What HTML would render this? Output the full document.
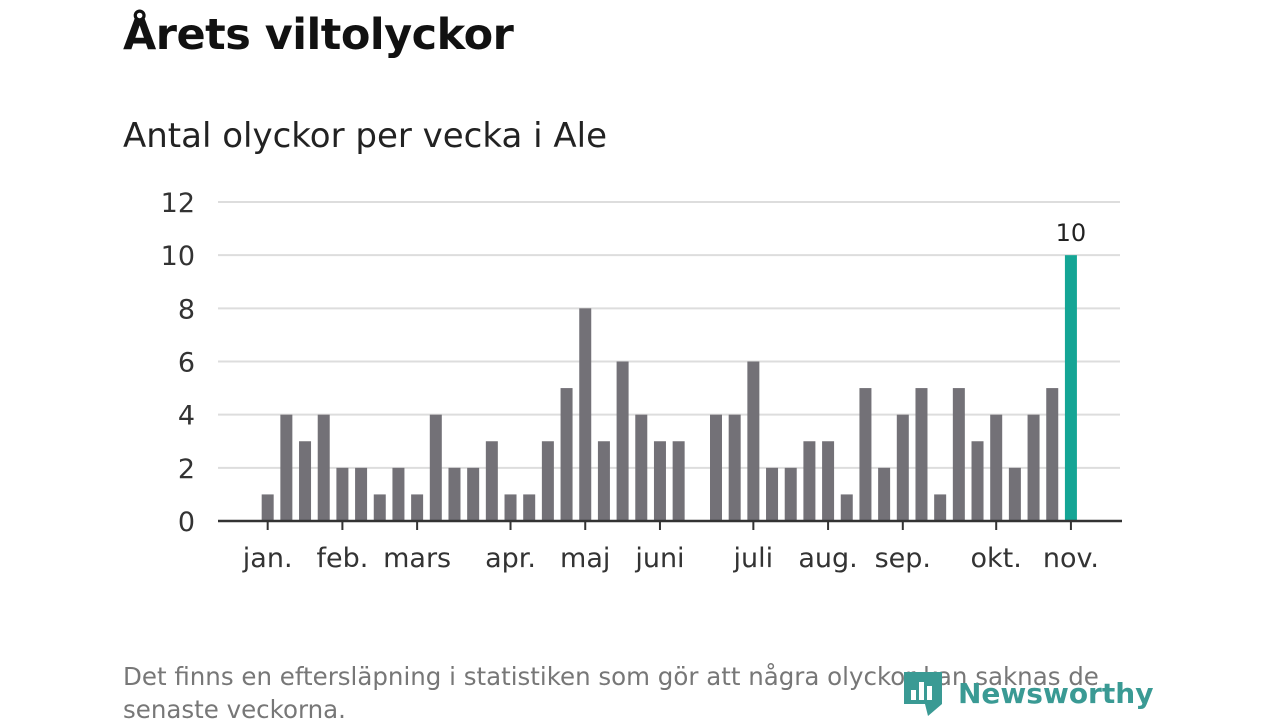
<!DOCTYPE html>
<html><head><meta charset="utf-8"><style>
body{margin:0;width:1280px;height:720px;background:#fff;overflow:hidden;font-family:"DejaVu Sans","Liberation Sans",sans-serif;position:relative}
#title{position:absolute;left:123px;top:10px;font-size:43px;font-weight:bold;color:#111;margin:0;letter-spacing:-0.5px}
#sub{position:absolute;left:123px;top:116px;font-size:34px;color:#222}
#note{position:absolute;left:123px;top:660px;font-size:24.5px;color:#777;line-height:33px;width:1025px}
#logo{position:absolute;left:902px;top:668px;display:flex;align-items:center}
#logo span{font-size:28px;font-weight:bold;color:#3a9a94;margin-left:14px}
svg text{font-family:"DejaVu Sans","Liberation Sans",sans-serif}
</style></head><body>
<h1 id="title">Årets viltolyckor</h1>
<div id="sub">Antal olyckor per vecka i Ale</div>
<svg id="chart" width="1280" height="720" style="position:absolute;left:0;top:0"></svg>
<div id="note">Det finns en eftersläpning i statistiken som gör att några olyckor kan saknas de senaste veckorna.</div>
<div id="logo">
<svg width="42" height="50" viewBox="0 0 42 50"><path d="M2 4h38v32l-14 12-3-12H2z" fill="#3a9a94"/><rect x="9" y="22" width="5" height="10" fill="#fff"/><rect x="17" y="14" width="5" height="18" fill="#fff"/><rect x="25" y="18" width="5" height="14" fill="#fff"/></svg>
<span>Newsworthy</span></div>
<script>
const weeks=[1,2,3,4,5,6,7,8,9,10,11,12,13,14,15,16,17,18,19,20,21,22,23,24,25,26,27,28,29,30,31,32,33,34,35,36,37,38,39,40,41,42,43,44,45];
const values=[0,1,4,3,4,2,2,1,2,1,4,2,2,3,1,1,3,5,8,3,6,4,3,3,0,4,4,6,2,2,3,3,1,5,2,4,5,1,5,3,4,2,4,5,10];
const yTicks=[0,2,4,6,8,10,12];
const monthLabels=["jan.","feb.","mars","apr.","maj","juni","juli","aug.","sep.","okt.","nov."];
const monthWeeks=[2,6,10,15,19,23,28,32,36,41,45];
</script>
<script>
const data=values.slice(values.length-weeks.length);
const ns="http://www.w3.org/2000/svg",svg=document.getElementById('chart');
const x0=218,x1=1120,y0=521,yTop=202,yMax=12;
const xs=w=>249+(w-1)*18.68;
const ys=v=>y0-(v/yMax)*(y0-yTop);
function mk(t,a){const e=document.createElementNS(ns,t);for(const k in a)e.setAttribute(k,a[k]);svg.appendChild(e);return e;}
yTicks.forEach(t=>{
 if(t>0){const g=mk('line',{x1:x0,x2:x1,y1:ys(t),y2:ys(t),stroke:'#ddd','stroke-width':2});
 
 }
 const l=mk('text',{x:195,y:ys(t)+10,'text-anchor':'end','font-size':27,fill:'#333'});l.textContent=t;
 
 
});
weeks.forEach((w,i)=>{
 const v=data[i];if(!v)return;
 const last=i===weeks.length-1;
 const r=mk('rect',{x:xs(w)-6,y:ys(v),width:12,height:y0-ys(v),fill:last?'#14a595':'#737177'});
 
 
 if(last){const t=mk('text',{x:xs(w),y:ys(v)-14,'text-anchor':'middle','font-size':24,fill:'#222'});t.textContent=v;
 
 }
});
const ax=mk('line',{x1:x0,x2:x1+2,y1:y0,y2:y0,stroke:'#333','stroke-width':2.5});


monthLabels.forEach((m,i)=>{
 const x=xs(monthWeeks[i]);
 const tk=mk('line',{x1:x,x2:x,y1:y0,y2:y0+9,stroke:'#333','stroke-width':2});
 
 
 const t=mk('text',{x:x,y:567,'text-anchor':'middle','font-size':27,fill:'#333'});t.textContent=m;
 
 
});
</script>
</body></html>
